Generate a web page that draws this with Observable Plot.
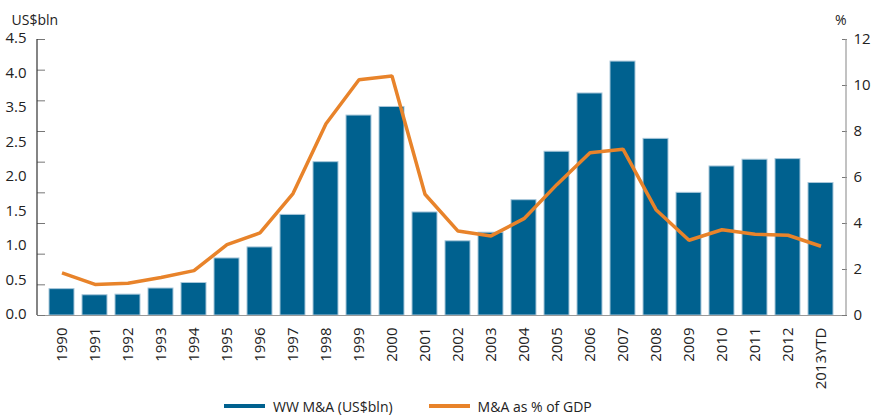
<!DOCTYPE html>
<html><head><meta charset="utf-8">
<script src="https://cdn.jsdelivr.net/npm/d3@7"></script>
<script src="https://cdn.jsdelivr.net/npm/@observablehq/plot@0.6"></script>
<style>
body{margin:0;background:#fff;font-family:"Open Sans",sans-serif;}
#legend{display:flex;align-items:center;height:22px;padding-left:224px;font-size:14px;color:#222}
.item{display:flex;align-items:center;margin-right:36px}
.sw{width:41px;height:3.5px;margin-right:8px}
</style></head><body><div id="chart"></div>
<div id="legend"></div>
<script>
const years = ["1990","1991","1992","1993","1994","1995","1996","1997","1998","1999","2000","2001","2002","2003","2004","2005","2006","2007","2008","2009","2010","2011","2012","2013YTD"];
const maValues = [0.43,0.33,0.34,0.44,0.53,0.93,1.11,1.64,2.50,3.26,3.40,1.68,1.21,1.35,1.88,2.67,3.62,4.14,2.88,2.00,2.43,2.54,2.55,2.16];
const gdpPct = [1.85,1.35,1.40,1.65,1.95,3.08,3.59,5.30,8.34,10.25,10.41,5.27,3.67,3.46,4.21,5.70,7.08,7.23,4.60,3.27,3.73,3.53,3.49,3.01];
const leftTicks = [0,0.5,1,1.5,2,2.5,3,3.5,4,4.5];
const leftLabels = ["0.0","0.5","1.0","1.5","2.0","2.5","3.5","4.0","4.5"];
const rightTicks = [0,2,4,6,8,10,12];
const seriesNames = ["WW M&A (US$bln)","M&A as % of GDP"];
const colors = ["#00618f","#e8832a"];

const leftMax = 4.5, rightMax = 12;
const toLeft = v => v * leftMax / rightMax;
const data = years.map((y,i)=>({year:y, ma:maValues[i], pct:gdpPct[i]}));
const step = leftMax / (leftLabels.length - 1);
const labelPos = leftLabels.map((_,i)=> i*step);

const axisLines = (index, scales, values, dims) => {
  const g = d3.create("svg:g");
  const y0 = scales.y(0), y1 = scales.y(leftMax);
  g.append("line").attr("x1", dims.marginLeft).attr("x2", dims.marginLeft)
    .attr("y1", y0).attr("y2", y1).attr("stroke", "#333").attr("stroke-width", 1.2);
  const xr = dims.width - dims.marginRight;
  g.append("line").attr("x1", xr).attr("x2", xr)
    .attr("y1", y0).attr("y2", y1).attr("stroke", "#999").attr("stroke-width", 1.2);
  return g.node();
};

const chart = Plot.plot({
  width: 874, height: 395,
  marginLeft: 37, marginRight: 28, marginTop: 39, marginBottom: 80,
  style: {fontFamily: "Open Sans", fontSize: "14px", color: "#222", background: "#fff"},
  x: {type: "band", domain: years, paddingInner: 0.24, paddingOuter: 0.12, label: null},
  y: {domain: [0, leftMax], label: null},
  marks: [
    Plot.barY(data, {x: "year", y: "ma", fill: colors[0], stroke: "#a8c7da", strokeWidth: 1}),
    Plot.ruleY([0], {stroke: "#999", strokeWidth: 1.2}),
    Plot.lineY(data, {x: "year", y: d => toLeft(d.pct), stroke: colors[1], strokeWidth: 3.5, strokeLinecap: "butt", strokeLinejoin: "miter"}),
    Plot.axisX({tickRotate: -90, tickSize: 0, tickPadding: 12, fontSize: 15, label: null}),
    Plot.axisY({ticks: leftTicks, tickSize: -8, stroke: "#777", tickFormat: () => "", label: null}),
    Plot.axisY({ticks: labelPos, tickSize: 0, tickPadding: 32, textAnchor: "start", dy: -1, fontSize: 15,
      tickFormat: d => leftLabels[Math.round(d / step)], label: null}),
    Plot.axisY({anchor: "right", ticks: rightTicks.map(toLeft), tickSize: -5, stroke: "#777", tickFormat: () => "", label: null}),
    Plot.axisY({anchor: "right", ticks: rightTicks.map(toLeft), tickSize: 0, tickPadding: 7, fontSize: 15,
      tickFormat: d => String(Math.round(d * rightMax / leftMax)), label: null}),
    axisLines,
    Plot.text(["US$bln"], {frameAnchor: "top-left", textAnchor: "start", dx: -26, dy: -24, fontSize: 14}),
    Plot.text(["%"], {frameAnchor: "top-right", textAnchor: "end", dy: -24, fontSize: 14})
  ]
});
document.getElementById("chart").appendChild(chart);

const legend = document.getElementById("legend");
seriesNames.forEach((n,i)=>{
  const it = document.createElement("div"); it.className = "item";
  const sw = document.createElement("div"); sw.className = "sw"; sw.style.background = colors[i];
  const tx = document.createElement("span"); tx.textContent = n;
  it.appendChild(sw); it.appendChild(tx); legend.appendChild(it);
});
</script>
</body></html>
